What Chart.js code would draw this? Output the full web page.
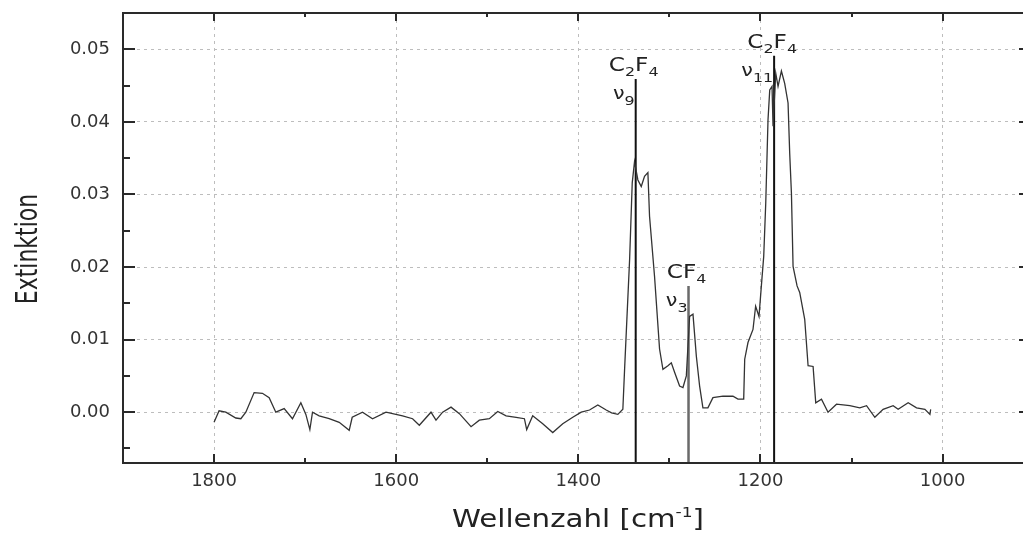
<!DOCTYPE html>
<html>
<head>
<meta charset="utf-8">
<script src="https://cdn.jsdelivr.net/npm/chart.js@4/dist/chart.umd.min.js"></script>
<style>
  body { margin: 0; background: #fff; }
  canvas { display: block; }
</style>
</head>
<body>
<canvas id="spectrum" width="1023" height="533"></canvas>
<script>
// IR spectrum (wavenumber in cm^-1, extinction)
const wavenumber = [
  1800, 1794.5, 1787.1, 1776.1, 1770.6, 1765.1, 1756.0, 1746.9, 1739.5, 1732.2,
  1723.0, 1713.9, 1704.7, 1699.2, 1694.8, 1691.9, 1684.6, 1673.6, 1662.6, 1651.6,
  1648.3, 1637.0, 1626.0, 1611.2, 1593.0, 1582.0, 1574.6, 1561.8, 1556.3, 1549.0,
  1539.8, 1530.6, 1517.8, 1508.7, 1497.7, 1488.5, 1479.3, 1468.3, 1459.2, 1456.7,
  1450.1, 1439.1, 1428.1, 1417.1, 1406.1, 1396.8, 1387.7, 1378.6, 1369.4, 1363.5,
  1356.6, 1351.1, 1349.2, 1343.7, 1340.8, 1338.3, 1334.6, 1330.9, 1327.3, 1323.6,
  1321.8, 1316.3, 1310.8, 1307.1, 1301.6, 1297.9, 1294.3, 1288.8, 1285.1, 1281.4,
  1277.8, 1274.1, 1270.4, 1266.8, 1263.2, 1257.7, 1252.2, 1241.2, 1230.2, 1224.7,
  1218.4, 1217.3, 1213.7, 1208.2, 1205.3, 1201.6, 1199.0, 1196.4, 1194.2, 1191.7,
  1189.8, 1187.3, 1186.2, 1183.2, 1180.7, 1177.0, 1173.4, 1169.7, 1167.9, 1166.0,
  1164.2, 1159.8, 1156.9, 1151.4, 1147.7, 1142.2, 1139.3, 1133.0, 1125.8, 1116.5,
  1101.9, 1090.9, 1083.5, 1074.4, 1065.3, 1054.3, 1048.8, 1037.8, 1028.6, 1019.4,
  1013.9, 1013.1
];
const extinction = [
  -0.0014, 0.0002, 0.0000, -0.0008, -0.0009, 0.0000, 0.0027, 0.0026, 0.0020, 0.0000,
  0.0005, -0.0009, 0.0013, -0.0003, -0.0024, 0.0000, -0.0005, -0.0009, -0.0014, -0.0025,
  -0.0007, 0.0000, -0.0009, 0.0000, -0.0005, -0.0009, -0.0018, 0.0000, -0.0011, 0.0000,
  0.0007, -0.0002, -0.0020, -0.0011, -0.0009, 0.0001, -0.0005, -0.0007, -0.0009, -0.0024,
  -0.0005, -0.0016, -0.0028, -0.0016, -0.0007, 0.0000, 0.0003, 0.0010, 0.0003, -0.0001,
  -0.0003, 0.0004, 0.0059, 0.0210, 0.0316, 0.0345, 0.0320, 0.0311, 0.0325, 0.0330,
  0.0270, 0.0187, 0.0087, 0.0059, 0.0064, 0.0068, 0.0055, 0.0036, 0.0034, 0.0050,
  0.0132, 0.0135, 0.0077, 0.0036, 0.0006, 0.0006, 0.0020, 0.0022, 0.0022, 0.0018,
  0.0018, 0.0073, 0.0096, 0.0114, 0.0146, 0.0132, 0.0174, 0.0215, 0.0288, 0.0403,
  0.0444, 0.0449, 0.0394, 0.0467, 0.0449, 0.0470, 0.0453, 0.0426, 0.0357, 0.0302,
  0.0201, 0.0174, 0.0165, 0.0128, 0.0064, 0.0063, 0.0013, 0.0018, 0.0000, 0.0011,
  0.0009, 0.0006, 0.0009, -0.0007, 0.0004, 0.0009, 0.0004, 0.0013, 0.0006, 0.0004,
  -0.0003, 0.0004
];

// marked bands
const bandPositions = [1337, 1279, 1185];
const bandTops = [0.0459, 0.0174, 0.0491];
const bandMolecules = [['C', '2', 'F', '4'], ['CF', '', '', '4'], ['C', '2', 'F', '4']];
const bandModes = ['9', '3', '11'];

// axes
const xMajor = [1800, 1600, 1400, 1200, 1000];
const xMinor = [1900, 1700, 1500, 1300, 1100];
const yMajor = [0.00, 0.01, 0.02, 0.03, 0.04, 0.05];
const yMinor = [-0.005, 0.005, 0.015, 0.025, 0.035, 0.045];
const xTitle = ['Wellenzahl [cm', '-1', ']'];
const yTitle = 'Extinktion';

const FONT = '"DejaVu Sans", sans-serif';
const STRETCH = 1.22;

function isMajor(list, v) {
  return list.some(m => Math.abs(m - v) < 1e-9);
}

// draws a run of [normal, sub, normal, sub] text pieces
function drawPieces(ctx, pieces, x, y, size, subSize, subDrop) {
  let cx = x;
  pieces.forEach((p, i) => {
    if (!p) return;
    const sub = i % 2 === 1;
    ctx.font = (sub ? subSize : size) + 'px ' + FONT;
    ctx.fillText(p, cx, y + (sub ? subDrop : 0));
    cx += ctx.measureText(p).width;
  });
}
function measurePieces(ctx, pieces, size, subSize) {
  let w = 0;
  pieces.forEach((p, i) => {
    if (!p) return;
    ctx.font = (i % 2 === 1 ? subSize : size) + 'px ' + FONT;
    w += ctx.measureText(p).width;
  });
  return w;
}

const framePlugin = {
  id: 'frame',
  afterDatasetsDraw(chart) {
    const { ctx, chartArea: a, scales: { x, y } } = chart;
    ctx.save();
    ctx.strokeStyle = '#2a2a2a';
    const seg = (x1, y1, x2, y2, w) => {
      ctx.lineWidth = w;
      ctx.beginPath(); ctx.moveTo(x1, y1); ctx.lineTo(x2, y2); ctx.stroke();
    };
    seg(a.left, a.top, a.right + 2, a.top, 2);
    seg(a.left, a.top - 1, a.left, a.bottom + 1, 2);
    seg(a.left, a.bottom, a.right + 2, a.bottom, 2);

    x.ticks.forEach(t => {
      const px = Math.round(x.getPixelForValue(t.value));
      const major = isMajor(xMajor, t.value);
      seg(px, a.bottom, px, a.bottom - (major ? 9 : 5), 2);
      seg(px, a.top, px, a.top + (major ? 8 : 4), 2);
    });
    y.ticks.forEach(t => {
      const py = Math.round(y.getPixelForValue(t.value));
      const major = isMajor(yMajor, t.value);
      seg(a.left, py, a.left + (major ? 12 : 7), py, 2);
      if (major) seg(a.right - 4, py, a.right, py, 2);
    });
    ctx.restore();
  },
  afterDraw(chart) {
    const { ctx, chartArea: a, scales: { x, y } } = chart;
    ctx.save();
    ctx.fillStyle = '#222';
    ctx.textBaseline = 'alphabetic';

    // band labels
    bandPositions.forEach((wn, i) => {
      const lx = x.getPixelForValue(wn);
      const ty = y.getPixelForValue(bandTops[i]);
      const mol = bandMolecules[i];
      const w = measurePieces(ctx, mol, 19, 13) * STRETCH;
      ctx.save();
      ctx.translate(lx - 2 - w / 2, ty - 8);
      ctx.scale(STRETCH, 1);
      drawPieces(ctx, mol, 0, 0, 19, 13, 5);
      ctx.restore();

      const mode = ['\u03bd', bandModes[i]];
      const mw = measurePieces(ctx, mode, 17, 13) * STRETCH;
      ctx.save();
      ctx.translate(lx - 1 - mw, ty + 20);
      ctx.scale(STRETCH, 1);
      drawPieces(ctx, mode, 0, 0, 17, 13, 6);
      ctx.restore();
    });

    // x title with superscript
    let tw = 0;
    ctx.font = '24px ' + FONT; tw += ctx.measureText(xTitle[0]).width + ctx.measureText(xTitle[2]).width;
    ctx.font = '14px ' + FONT; tw += ctx.measureText(xTitle[1]).width;
    tw *= STRETCH;
    ctx.save();
    ctx.translate((a.left + a.right) / 2 + 5 - tw / 2, 527);
    ctx.scale(STRETCH, 1);
    let cx = 0;
    ctx.font = '24px ' + FONT; ctx.fillText(xTitle[0], cx, 0); cx += ctx.measureText(xTitle[0]).width;
    ctx.font = '14px ' + FONT; ctx.fillText(xTitle[1], cx, -10); cx += ctx.measureText(xTitle[1]).width;
    ctx.font = '24px ' + FONT; ctx.fillText(xTitle[2], cx, 0);
    ctx.restore();

    // y title, rotated
    ctx.save();
    ctx.translate(37, 249);
    ctx.scale(1.35, 1);
    ctx.rotate(-Math.PI / 2);
    ctx.font = '22px ' + FONT;
    ctx.textAlign = 'center';
    ctx.fillText(yTitle, 0, 0);
    ctx.restore();

    ctx.restore();
  }
};

const datasets = [{
  data: wavenumber.map((v, i) => ({ x: v, y: extinction[i] })),
  showLine: true,
  borderColor: '#333',
  borderWidth: 1.3,
  pointRadius: 0,
  tension: 0
}];
bandPositions.forEach((wn, i) => {
  datasets.push({
    data: [{ x: wn, y: bandTops[i] }, { x: wn, y: -0.007 }],
    showLine: true,
    borderColor: i === 1 ? '#6a6a6a' : '#111',
    borderWidth: i === 1 ? 2.5 : 2,
    pointRadius: 0
  });
});

new Chart(document.getElementById('spectrum'), {
  type: 'scatter',
  data: { datasets },
  options: {
    responsive: false,
    animation: false,
    layout: { padding: { top: 13, right: 0, left: 0, bottom: 0 } },
    plugins: { legend: { display: false }, tooltip: { enabled: false } },
    scales: {
      x: {
        type: 'linear',
        reverse: true,
        min: 911.7,
        max: 1900,
        afterBuildTicks: s => { s.ticks = [...xMajor, ...xMinor].sort((p, q) => q - p).map(value => ({ value })); },
        afterFit: s => { s.height = 70; s.paddingLeft = 0; s.paddingRight = 0; },
        ticks: {
          autoSkip: false,
          maxRotation: 0,
          padding: 8,
          color: '#333',
          font: { family: FONT, size: 18 },
          callback: v => isMajor(xMajor, v) ? String(v) : ''
        },
        grid: {
          drawTicks: false,
          lineWidth: 1,
          color: c => c.tick && isMajor(xMajor, c.tick.value) ? '#bdbdbd' : 'rgba(0,0,0,0)'
        },
        border: { display: false, dash: [3, 4] }
      },
      y: {
        type: 'linear',
        min: -0.007,
        max: 0.055,
        afterBuildTicks: s => { s.ticks = [...yMinor, ...yMajor].sort((p, q) => p - q).map(value => ({ value })); },
        afterFit: s => { s.width = 123; s.paddingTop = 0; s.paddingBottom = 0; },
        ticks: {
          autoSkip: false,
          padding: 13,
          color: '#333',
          font: { family: FONT, size: 18 },
          callback: v => isMajor(yMajor, v) ? v.toFixed(2) : ''
        },
        grid: {
          drawTicks: false,
          lineWidth: 1,
          color: c => c.tick && isMajor(yMajor, c.tick.value) ? '#bdbdbd' : 'rgba(0,0,0,0)'
        },
        border: { display: false, dash: [3, 4] }
      }
    }
  },
  plugins: [framePlugin]
});
</script>
</body>
</html>
